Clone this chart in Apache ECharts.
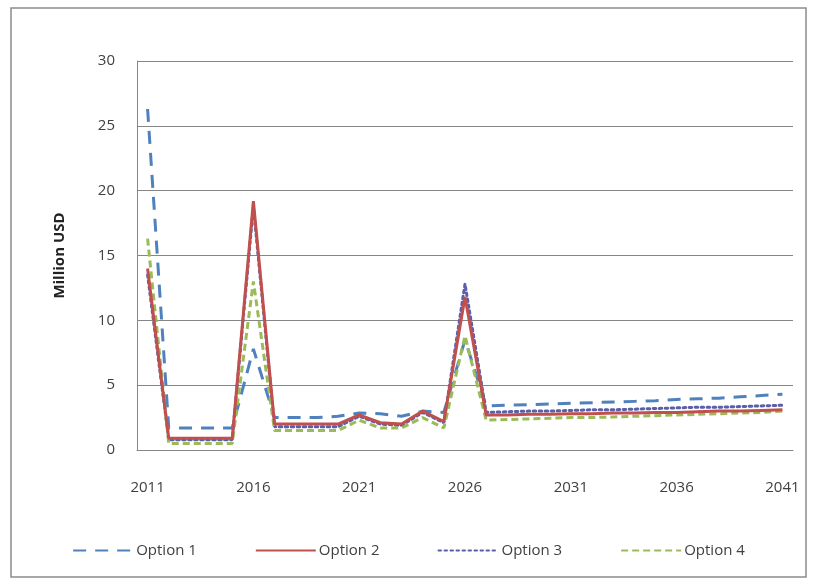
<!DOCTYPE html>
<html>
<head>
<meta charset="utf-8">
<script src="https://cdn.jsdelivr.net/npm/echarts@6/dist/echarts.min.js"></script>
<style>
  html, body { margin: 0; padding: 0; background: #fff; }
  #chart { width: 817px; height: 585px; }
</style>
</head>
<body>
<div id="chart"></div>
<script>
const years = [
  "2011", "2012", "2013", "2014", "2015", "2016", "2017", "2018", "2019", "2020",
  "2021", "2022", "2023", "2024", "2025", "2026", "2027", "2028", "2029", "2030",
  "2031", "2032", "2033", "2034", "2035", "2036", "2037", "2038", "2039", "2040", "2041"
];

const option1 = [
  26.3, 1.7, 1.7, 1.7, 1.7, 7.8, 2.5, 2.5, 2.5, 2.6,
  2.85, 2.8, 2.6, 3.0, 2.9, 8.5, 3.4, 3.45, 3.5, 3.55,
  3.6, 3.65, 3.7, 3.75, 3.8, 3.9, 3.95, 4.0, 4.1, 4.2, 4.3
];
const option2 = [
  14.0, 0.9, 0.9, 0.9, 0.9, 19.2, 2.0, 2.0, 2.0, 2.0,
  2.7, 2.1, 2.0, 3.0, 2.2, 11.8, 2.7, 2.7, 2.75, 2.75,
  2.8, 2.8, 2.85, 2.85, 2.9, 2.9, 2.95, 3.0, 3.0, 3.05, 3.1
];
const option3 = [
  13.5, 0.8, 0.8, 0.8, 0.8, 18.8, 1.8, 1.8, 1.8, 1.8,
  2.6, 2.0, 1.9, 2.9, 2.1, 12.8, 2.9, 2.95, 3.0, 3.0,
  3.05, 3.1, 3.1, 3.15, 3.2, 3.25, 3.3, 3.3, 3.35, 3.4, 3.45
];
const option4 = [
  16.3, 0.5, 0.5, 0.5, 0.5, 13.0, 1.5, 1.5, 1.5, 1.5,
  2.3, 1.7, 1.7, 2.5, 1.7, 8.8, 2.3, 2.35, 2.4, 2.45,
  2.5, 2.5, 2.55, 2.6, 2.65, 2.7, 2.75, 2.8, 2.85, 2.9, 3.0
];
const seriesNames = ["Option 1", "Option 2", "Option 3", "Option 4"];

const font = "'Open Sans', sans-serif";
const chart = echarts.init(document.getElementById("chart"));

function lineSeries(name, data, color, type, cap) {
  return {
    name: name,
    type: "line",
    data: data,
    symbol: "none",
    animation: false,
    lineStyle: { color: color, width: 3, type: type, cap: cap || "butt" },
    itemStyle: { color: color }
  };
}

chart.setOption({
  backgroundColor: "#fff",
  textStyle: { fontFamily: font },
  graphic: [{
    type: "rect",
    shape: { x: 11, y: 8, width: 795, height: 569 },
    style: { fill: "none", stroke: "#8c8c8c", lineWidth: 1.5 },
    silent: true
  }],
  grid: { left: 137, right: 24, top: 61, bottom: 135 },
  legend: {
    bottom: 22,
    left: "center",
    itemWidth: 60,
    itemHeight: 12,
    itemGap: 58,
    itemStyle: { opacity: 0 },
    textStyle: { fontSize: 15, color: "#404040", fontFamily: font, padding: [0, 0, 0, -2] },
    data: seriesNames
  },
  xAxis: {
    type: "category",
    data: years,
    boundaryGap: true,
    axisLine: { lineStyle: { color: "#868686", width: 1 } },
    axisTick: { show: false },
    axisLabel: { interval: 4, margin: 30, fontSize: 15, color: "#404040", fontFamily: font },
    splitLine: { show: false }
  },
  yAxis: {
    type: "value",
    min: 0,
    max: 30,
    interval: 5,
    name: "Million USD",
    nameLocation: "middle",
    nameGap: 70,
    nameTextStyle: { fontSize: 15, fontWeight: "bold", color: "#222", fontFamily: font },
    axisLine: { show: true, lineStyle: { color: "#868686", width: 1 } },
    axisTick: { show: false },
    axisLabel: { margin: 22, fontSize: 15, color: "#404040", fontFamily: font },
    splitLine: { lineStyle: { color: "#868686", width: 1 } }
  },
  series: [
    lineSeries(seriesNames[0], option1, "#4F81BD", [13, 9]),
    lineSeries(seriesNames[2], option3, "#5B5FA8", [2.5, 3.5], "round"),
    lineSeries(seriesNames[3], option4, "#9BBB59", [7, 4]),
    lineSeries(seriesNames[1], option2, "#C0504D", "solid")
  ]
});
</script>
</body>
</html>
